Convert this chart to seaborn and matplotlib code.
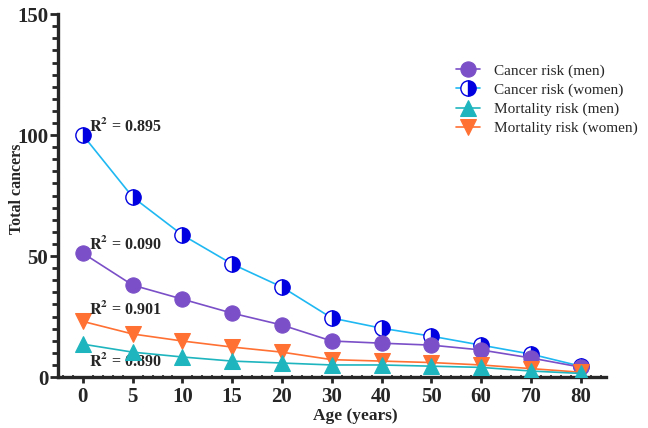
import numpy as np
import matplotlib
matplotlib.use("Agg")
import matplotlib.pyplot as plt
import seaborn as sns
from matplotlib.ticker import MultipleLocator

# Data
ages = ["0", "5", "10", "15", "20", "30", "40", "50", "60", "70", "80"]
cancer_men = [51.2, 38.0, 32.2, 26.4, 21.5, 14.9, 14.0, 13.2, 11.2, 7.9, 4.1]
cancer_women = [100.0, 74.4, 58.7, 46.7, 37.2, 24.4, 20.2, 16.9, 13.2, 9.5, 4.5]
mortality_men = [13.6, 10.3, 8.3, 6.6, 5.8, 5.0, 5.0, 4.5, 4.0, 2.5, 1.5]
mortality_women = [23.0, 17.8, 14.9, 12.4, 10.3, 7.2, 6.6, 6.0, 5.0, 3.5, 2.0]
r2_labels = ["0.895", "0.090", "0.901", "0.890"]
r2_y = [103.5, 54.5, 27.7, 6.2]

sns.set_style("ticks")
plt.rcParams["font.family"] = ["Liberation Serif", "DejaVu Serif"]
plt.rcParams["mathtext.fontset"] = "stix"

pos = np.arange(len(ages))

fig = plt.figure(figsize=(6.48, 4.28), dpi=100)
ax = fig.add_axes([0.0895, 0.119, 0.845, 0.848])

sns.lineplot(x=pos, y=cancer_men, ax=ax, color="#7a4fc7", lw=1.2,
             marker="o", markersize=11, markerfacecolor="#7a4fc7",
             markeredgecolor="#7a4fc7", label="Cancer risk (men)", zorder=3)
sns.lineplot(x=pos, y=cancer_women, ax=ax, color="#1fb8f2", lw=1.2,
             marker="o", markersize=11, fillstyle="right",
             markerfacecolor="#0000e0", markerfacecoloralt="white",
             markeredgecolor="#0000e0", markeredgewidth=1.0,
             label="Cancer risk (women)", zorder=2)
sns.lineplot(x=pos, y=mortality_men, ax=ax, color="#1fb5bf", lw=1.2,
             marker="^", markersize=11, markerfacecolor="#1fb5bf",
             markeredgecolor="#1fb5bf", label="Mortality risk (men)", zorder=4)
sns.lineplot(x=pos, y=mortality_women, ax=ax, color="#ff7033", lw=1.2,
             marker="v", markersize=11, markerfacecolor="#ff7033",
             markeredgecolor="#ff7033", label="Mortality risk (women)", zorder=3)

for lab, yv in zip(r2_labels, r2_y):
    ax.text(0.13, yv, r"$\mathbf{R^2}$ = " + lab, fontsize=11.5, fontweight="bold",
            va="center", ha="left")

ax.set_xlim(-0.5, 10.5)
ax.set_ylim(0, 150)
ax.set_xticks(pos)
ax.set_xticklabels(ages)
ax.set_yticks([0, 50, 100, 150])
ax.yaxis.set_minor_locator(MultipleLocator(5))
ax.xaxis.set_minor_locator(MultipleLocator(0.2))

for s in ["top", "right"]:
    ax.spines[s].set_visible(False)
for s in ["left", "bottom"]:
    ax.spines[s].set_linewidth(2.4)

ax.tick_params(axis="y", which="major", length=6, width=2, labelsize=15, pad=1)
ax.tick_params(axis="y", which="minor", length=4, width=2)
ax.tick_params(axis="x", which="major", length=4, width=2, labelsize=15, pad=3)
ax.tick_params(axis="x", which="minor", length=3, width=1.2, direction="inout")
for t in ax.get_xticklabels() + ax.get_yticklabels():
    t.set_fontweight("bold")

ax.set_xlabel("Age (years)", fontsize=12.5, fontweight="bold")
ax.xaxis.set_label_coords(0.543, -0.085)
ax.set_ylabel("Total cancers", fontsize=11.5, fontweight="bold")
ax.yaxis.set_label_coords(-0.06, 0.52)

leg = ax.legend(loc="upper left", bbox_to_anchor=(0.715, 0.88), frameon=False,
                fontsize=11, handlelength=1.6, handletextpad=0.9,
                labelspacing=0.35, borderaxespad=0)

fig.savefig("out.png", dpi=100)
